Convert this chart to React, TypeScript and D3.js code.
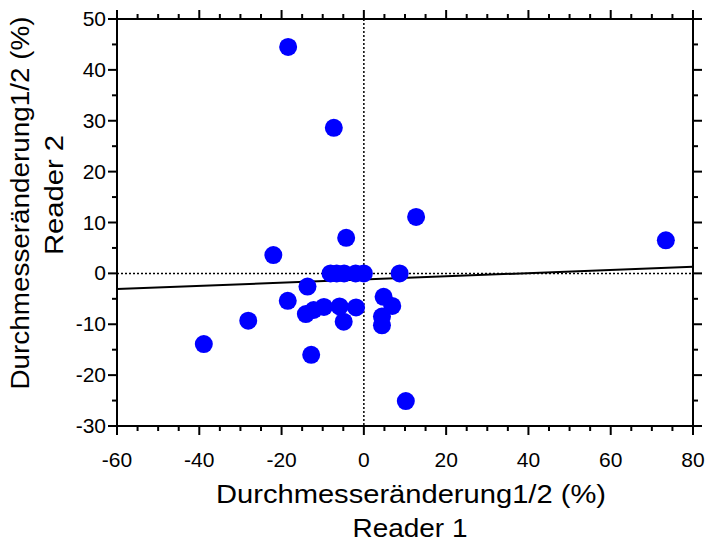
import React from "react";
import * as d3 from "d3";

const readerOne = [-18.4, -7.3, 12.7, -4.3, -22.0, -8.1, -6.6, -4.8, -2.0, 0.0, 8.7, -13.7, -18.5, -28.1, -38.9, -14.1, -12.2, -9.7, -5.9, -4.9, -1.9, -12.8, 4.8, 6.9, 4.4, 4.4, 10.2, 73.4];
const readerTwo = [44.5, 28.6, 11.1, 7.0, 3.6, 0, 0, 0, 0, 0, 0, -2.6, -5.4, -9.3, -13.9, -8.0, -7.2, -6.6, -6.5, -9.5, -6.7, -16.0, -4.6, -6.4, -8.5, -10.2, -25.1, 6.5];
const xTicks = [-60, -40, -20, 0, 20, 40, 60, 80];
const yTicks = [-30, -20, -10, 0, 10, 20, 30, 40, 50];
const fitIntercept = -1.21;
const fitSlope = 0.0314;
const xTitle = ["Durchmesseränderung1/2 (%)", "Reader 1"];
const yTitle = ["Durchmesseränderung1/2 (%)", "Reader 2"];

const W = 711, H = 542;
const L = 117, R = 693, T = 19, B = 426;

export default function App() {
  const x = d3.scaleLinear().domain([-60, 80]).range([L, R]);
  const y = d3.scaleLinear().domain([-30, 50]).range([B, T]);
  const xMinor = d3.range(-60, 80.001, 5);
  const yMinor = d3.range(-30, 50.001, 5);
  const font = "Liberation Sans, Arial, sans-serif";
  const line = d3.line<number>().x((v) => x(v)).y((v) => y(fitIntercept + fitSlope * v));
  const pts = readerOne.map((v, i) => ({ a: v, b: readerTwo[i] }));
  return (
    <svg width={W} height={H} style={{ position: "absolute", left: 0, top: 0, background: "#fff" }}>
      <line x1={x(0)} x2={x(0)} y1={T} y2={B} stroke="#000" strokeWidth={1.5} strokeDasharray="2,2" />
      <line x1={L} x2={R} y1={y(0)} y2={y(0)} stroke="#000" strokeWidth={1.5} strokeDasharray="2,2" />
      <path d={line([-60, 80]) || ""} stroke="#000" strokeWidth={2} fill="none" />
      {pts.map((p, i) => (
        <circle key={i} cx={x(p.a)} cy={y(p.b)} r={9} fill="#0000ff" />
      ))}
      <rect x={L} y={T} width={R - L} height={B - T} fill="none" stroke="#000" strokeWidth={2} />
      {xMinor.map((v) => {
        const major = v % 20 === 0;
        const len = major ? 9 : 5;
        return (
          <g key={"x" + v}>
            <line x1={x(v)} x2={x(v)} y1={B} y2={B + len} stroke="#000" strokeWidth={2} />
            <line x1={x(v)} x2={x(v)} y1={T} y2={T - len} stroke="#000" strokeWidth={2} />
          </g>
        );
      })}
      {yMinor.map((v) => {
        const major = v % 10 === 0;
        const len = major ? 9 : 5;
        return (
          <g key={"y" + v}>
            <line x1={L} x2={L - len} y1={y(v)} y2={y(v)} stroke="#000" strokeWidth={2} />
            <line x1={R} x2={R + len} y1={y(v)} y2={y(v)} stroke="#000" strokeWidth={2} />
          </g>
        );
      })}
      {xTicks.map((v) => (
        <text key={"xl" + v} x={x(v)} y={467} textAnchor="middle" fontFamily={font} fontSize={21}>
          {v}
        </text>
      ))}
      {yTicks.map((v) => (
        <text key={"yl" + v} x={106} y={y(v) + 7} textAnchor="end" fontFamily={font} fontSize={21}>
          {v}
        </text>
      ))}
      <text x={411} y={503} textAnchor="middle" fontFamily={font} fontSize={25} textLength={390} lengthAdjust="spacingAndGlyphs">
        {xTitle[0]}
      </text>
      <text x={410} y={537} textAnchor="middle" fontFamily={font} fontSize={25} textLength={115} lengthAdjust="spacingAndGlyphs">
        {xTitle[1]}
      </text>
      <g transform={`translate(29,203) rotate(-90)`}>
        <text x={0} y={0} textAnchor="middle" fontFamily={font} fontSize={25} textLength={373} lengthAdjust="spacingAndGlyphs">
          {yTitle[0]}
        </text>
      </g>
      <g transform={`translate(63,195) rotate(-90)`}>
        <text x={0} y={0} textAnchor="middle" fontFamily={font} fontSize={25} textLength={120} lengthAdjust="spacingAndGlyphs">
          {yTitle[1]}
        </text>
      </g>
    </svg>
  );
}
